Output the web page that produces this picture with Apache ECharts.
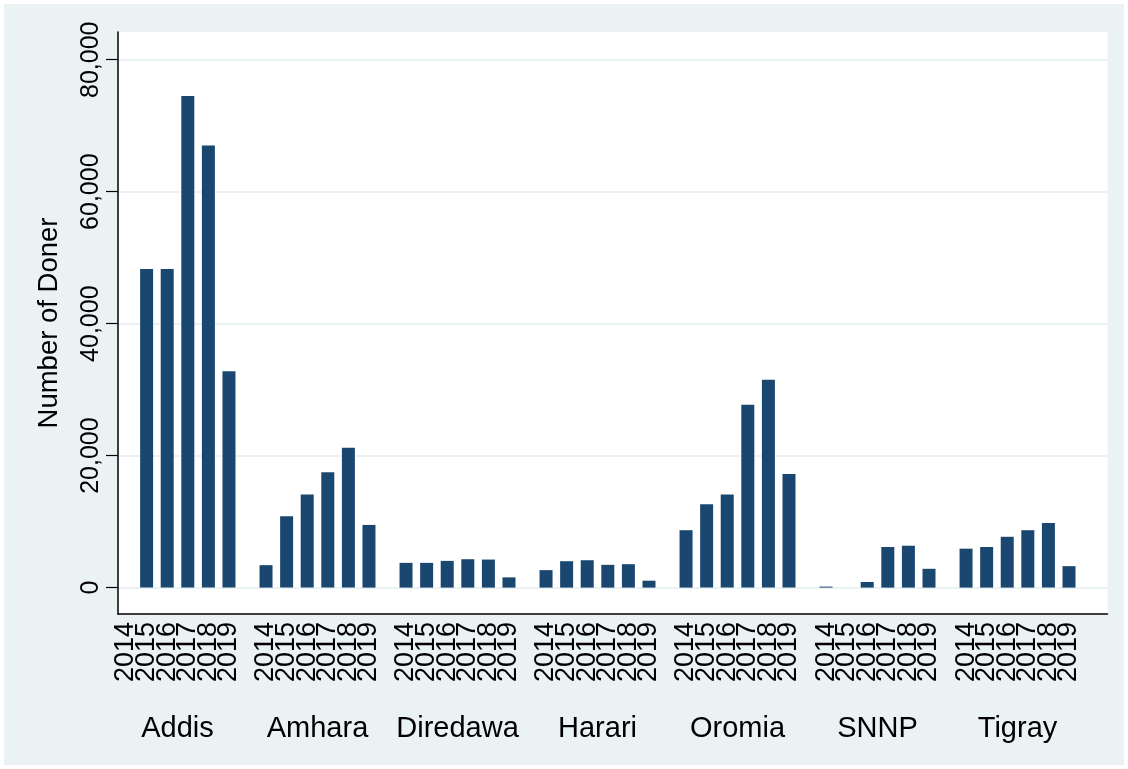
<!DOCTYPE html>
<html>
<head>
<meta charset="utf-8">
<script src="https://cdn.jsdelivr.net/npm/echarts@6/dist/echarts.min.js"></script>
<style>
  html, body { margin: 0; padding: 0; background: #ffffff; }
  #chart { position: absolute; left: 4px; top: 4px; width: 1120px; height: 761px; }
</style>
</head>
<body>
<div id="chart"></div>
<script>
// Blood donors by region and year
const regions = ['Addis', 'Amhara', 'Diredawa', 'Harari', 'Oromia', 'SNNP', 'Tigray'];
const years = ['2014', '2015', '2016', '2017', '2018', '2019'];

const addis    = [null, 48300, 48300, 74500, 67000, 32800];
const amhara   = [3400, 10800, 14100, 17500, 21200, 9500];
const diredawa = [3750, 3750, 4050, 4300, 4250, 1550];
const harari   = [2650, 4000, 4150, 3450, 3550, 1050];
const oromia   = [8700, 12650, 14100, 27700, 31500, 17200];
const snnp     = [150, null, 850, 6150, 6350, 2850];
const tigray   = [5900, 6150, 7700, 8700, 9800, 3250];

const yTicks = [0, 20000, 40000, 60000, 80000];

const valuesByRegion = [addis, amhara, diredawa, harari, oromia, snnp, tigray];

// Layout on the x axis, in units of one bar slot
const GROUP_STEP = 6.8;            // distance between region groups
const X_MIN = -0.39, X_MAX = 47.67;

const slotPos = (r, y) => +(r * GROUP_STEP + y).toFixed(4);

const barData = [];
const yearLabelPos = [];
const yearLabelText = {};
valuesByRegion.forEach((vals, r) => {
  vals.forEach((v, y) => {
    const x = slotPos(r, y);
    yearLabelPos.push(x);
    yearLabelText[x.toFixed(3)] = years[y];
    if (v !== null) barData.push([x, v]);
  });
});
// blank end labels keep the automatic min/max label pruning away from real years
const yearLabelValues = [X_MIN].concat(yearLabelPos, [X_MAX]);

const regionPos = regions.map((_, r) => +(r * GROUP_STEP + (years.length - 1) / 2).toFixed(4));
const regionText = {};
regionPos.forEach((p, r) => { regionText[p.toFixed(3)] = regions[r]; });

const FONT = '"Liberation Sans", Arial, Helvetica, sans-serif';

const chart = echarts.init(document.getElementById('chart'), null, { renderer: 'canvas' });
chart.setOption({
  backgroundColor: '#eaf2f3',
  animation: false,
  textStyle: { fontFamily: FONT, color: '#000' },
  grid: {
    left: 114, right: 16.5, top: 28, bottom: 151,
    show: true, backgroundColor: '#ffffff', borderWidth: 0
  },
  xAxis: [
    {
      type: 'value', min: X_MIN, max: X_MAX,
      axisLine: { show: true, onZero: false, lineStyle: { color: '#000', width: 1.5 } },
      axisTick: { show: false },
      splitLine: { show: false },
      axisLabel: {
        customValues: yearLabelValues,
        showMinLabel: false, showMaxLabel: false, hideOverlap: false,
        rotate: 90, margin: 8,
        fontSize: 27, color: '#000', fontFamily: FONT,
        formatter: v => yearLabelText[(+v).toFixed(3)] || ''
      }
    },
    {
      type: 'value', min: X_MIN, max: X_MAX, position: 'bottom',
      axisLine: { show: false }, axisTick: { show: false }, splitLine: { show: false },
      axisLabel: {
        customValues: regionPos,
        showMinLabel: true, showMaxLabel: true,
        margin: 100, fontSize: 29, color: '#000', fontFamily: FONT,
        formatter: v => regionText[(+v).toFixed(3)] || ''
      }
    }
  ],
  yAxis: {
    type: 'value', min: -4000, max: 84200,
    name: 'Number of Doner', nameLocation: 'middle', nameRotate: 90, nameGap: 55,
    nameTextStyle: { fontSize: 27.5, color: '#000', fontFamily: FONT },
    axisLine: { show: true, onZero: false, lineStyle: { color: '#000', width: 1.5 } },
    axisTick: { show: true, customValues: yTicks, length: 12, lineStyle: { color: '#000', width: 1.2 } },
    splitLine: { show: true, lineStyle: { color: '#eaf2f3', width: 2 } },
    axisLabel: {
      customValues: yTicks, rotate: 90, margin: 14,
      showMinLabel: true, showMaxLabel: true,
      fontSize: 25, color: '#000', fontFamily: FONT,
      formatter: v => Number(v).toLocaleString('en-US')
    }
  },
  series: [{
    type: 'bar',
    xAxisIndex: 0,
    data: barData,
    barWidth: 13,
    itemStyle: { color: '#1a476f' }
  }]
});
</script>
</body>
</html>
